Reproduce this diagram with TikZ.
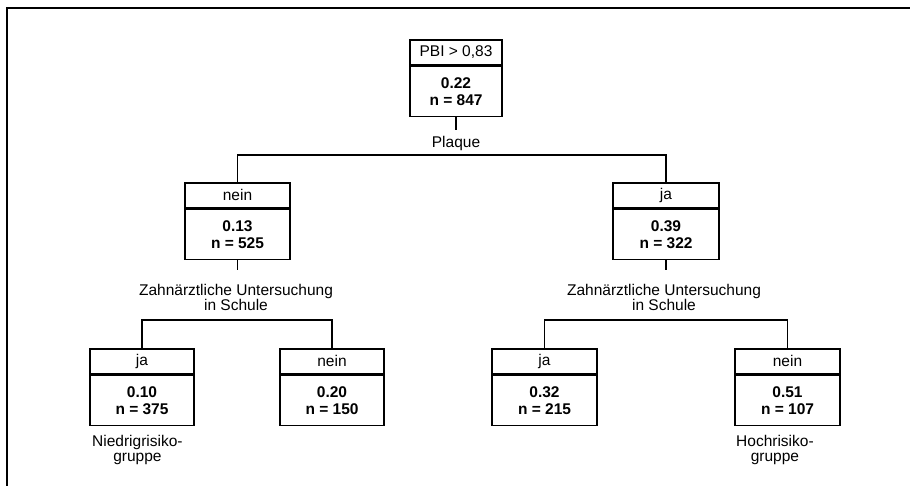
\documentclass[tikz,border=0pt]{standalone}
\usepackage{fontspec}
\setmainfont{Liberation Sans}
\begin{document}
\begin{tikzpicture}[x=1pt,y=-1pt,
  hdr/.style={draw, line width=1.7pt, minimum height=25pt, inner sep=0pt, anchor=north,
    font=\fontsize{15.5}{17}\selectfont},
  bdy/.style={draw, line width=1.7pt, minimum height=50pt, inner sep=0pt, anchor=north,
    align=center, font=\fontsize{15.5}{17.7}\selectfont\bfseries},
  conn/.style={line width=1.5pt},
  lbl/.style={inner sep=0pt, align=center, font=\fontsize{15.5}{15.5}\selectfont}]
\useasboundingbox (0,0) rectangle (910,486);
% frame (top and left edges visible)
\draw[line width=2pt] (7,486) -- (7,8) -- (910,8);

% root
\node[hdr, minimum width=92pt] (rh) at (456,39) {PBI > 0,83};
\node[bdy, minimum width=92pt] (rb) at (rh.south) {0.22\\n = 847};
\coordinate (rs) at (456,130);
\draw[conn] (rb.south) -- (rs);
\node[lbl, anchor=base] (rl) at (456,148) {Plaque};

% level 1
\node[hdr, minimum width=105pt] (ah) at (237.5,182) {nein};
\node[bdy, minimum width=105pt] (ab) at (ah.south) {0.13\\n = 525};
\node[hdr, minimum width=106pt] (bh) at (666,182) {ja};
\node[bdy, minimum width=106pt] (bb) at (bh.south) {0.39\\n = 322};
\draw[conn] (ah.north) -- (ah.north |- 0,155) -- (bh.north |- 0,155) -- (bh.north);

% splits of level 1
\coordinate (as) at (237.5,270);
\draw[conn] (ab.south) -- (as);
\node[lbl, anchor=north] (al) at (236,284) {Zahnärztliche Untersuchung\\in Schule};
\coordinate (bs) at (666,270);
\draw[conn] (bb.south) -- (bs);
\node[lbl, anchor=north] (bl) at (664,284) {Zahnärztliche Untersuchung\\in Schule};

% level 2
\node[hdr, minimum width=104pt] (ch) at (142,348) {ja};
\node[bdy, minimum width=104pt] (cb) at (ch.south) {0.10\\n = 375};
\node[hdr, minimum width=104pt] (dh) at (332,348) {nein};
\node[bdy, minimum width=104pt] (db) at (dh.south) {0.20\\n = 150};
\node[hdr, minimum width=105pt] (eh) at (544.5,348) {ja};
\node[bdy, minimum width=105pt] (eb) at (eh.south) {0.32\\n = 215};
\node[hdr, minimum width=105pt] (fh) at (787.5,348) {nein};
\node[bdy, minimum width=105pt] (fb) at (fh.south) {0.51\\n = 107};
\draw[conn] (ch.north) -- (ch.north |- 0,320) -- (dh.north |- 0,320) -- (dh.north);
\draw[conn] (eh.north) -- (eh.north |- 0,320) -- (fh.north |- 0,320) -- (fh.north);

% group labels
\node[lbl, anchor=north west] (cl) at (92,435) {Niedrigrisiko-\\gruppe};
\node[lbl, anchor=north west] (fl) at (736,435) {Hochrisiko-\\gruppe};
\end{tikzpicture}
\end{document}
